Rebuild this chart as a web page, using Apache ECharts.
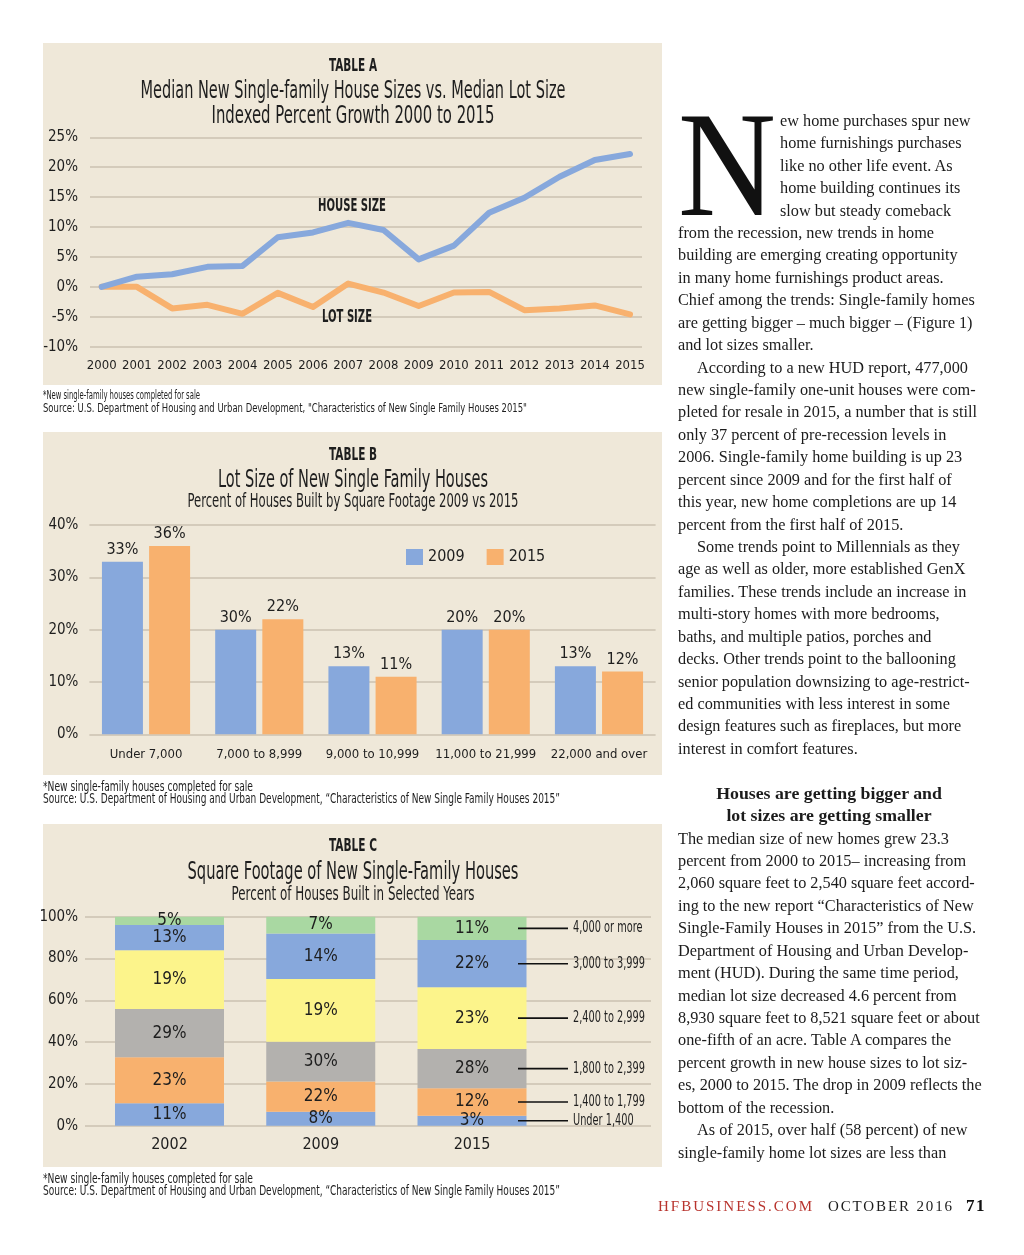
<!DOCTYPE html>
<html>
<head>
<meta charset="utf-8">
<script src="https://cdn.jsdelivr.net/npm/echarts@6/dist/echarts.min.js"></script>
<style>
  html, body { margin: 0; padding: 0; background: #ffffff; }
  #page { position: relative; width: 1024px; height: 1255px; overflow: hidden; background: #fff; }
  #chart { position: absolute; left: 0; top: 0; width: 1024px; height: 1255px; }
  .ln { position: absolute; white-space: pre; font-family: 'Liberation Serif', 'DejaVu Serif', serif; color: #1b1b1b; transform-origin: 0 0; }
  #dropcap { position: absolute; font-family: 'Liberation Serif', 'DejaVu Serif', serif; color: #111; transform-origin: 0 0; }
  .foot { position: absolute; font-family: 'Liberation Serif', 'DejaVu Serif', serif; white-space: pre; }
</style>
</head>
<body>
<div id="page">
  <div id="chart"></div>
  <div id="article"></div>
</div>
<script>
// ---------------- DATA ----------------
// Table A
const yearsA = [2000, 2001, 2002, 2003, 2004, 2005, 2006, 2007, 2008, 2009, 2010, 2011, 2012, 2013, 2014, 2015];
const houseSize = [0, 1.7, 2.1, 3.35, 3.5, 8.3, 9.1, 10.7, 9.5, 4.6, 6.9, 12.4, 14.9, 18.4, 21.2, 22.2];
const lotSize = [0, 0, -3.6, -3.0, -4.5, -1.0, -3.35, 0.55, -0.95, -3.2, -0.95, -0.85, -3.9, -3.6, -3.1, -4.6];

// Table B
const lotCats = ['Under 7,000', '7,000 to 8,999', '9,000 to 10,999', '11,000 to 21,999', '22,000 and over'];
const lot2009 = [33, 20, 13, 20, 13];
const lot2009Labels = ['33%', '30%', '13%', '20%', '13%'];
const lot2015 = [36, 22, 11, 20, 12];
const lot2015Labels = ['36%', '22%', '11%', '20%', '12%'];

// Table C (drawn segment heights, bottom to top, for 2002 / 2009 / 2015)
const sqYears = ['2002', '2009', '2015'];
const sqBands = ['Under 1,400', '1,400 to 1,799', '1,800 to 2,399', '2,400 to 2,999', '3,000 to 3,999', '4,000 or more'];
const sqUnder1400 = [10.7, 6.7, 4.8];
const sq1400 = [22.0, 14.4, 13.1];
const sq1800 = [23.1, 19.1, 18.8];
const sq2400 = [28.2, 30.0, 29.5];
const sq3000 = [12.0, 21.8, 22.6];
const sq4000 = [4.0, 8.0, 11.2];
const lblUnder1400 = ['11%', '8%', '3%'];
const lbl1400 = ['23%', '22%', '12%'];
const lbl1800 = ['29%', '30%', '28%'];
const lbl2400 = ['19%', '19%', '23%'];
const lbl3000 = ['13%', '14%', '22%'];
const lbl4000 = ['5%', '7%', '11%'];

// ---------------- STYLE ----------------
const mctx = document.createElement('canvas').getContext('2d');
function measure(text, font) { mctx.font = font; return mctx.measureText(text).width; }
function hasFont(name) {
  const t = 'abcdefghijklmnopqrstuvwxyzABCDEFGHIJKLM0123456789%,';
  return measure(t, "40px '" + name + "', monospace") !== measure(t, '40px monospace');
}
const condCandidates = ['Liberation Sans Narrow', 'Arial Narrow', 'DejaVu Sans Condensed', 'Roboto', 'Liberation Sans'];
const FF = "'" + (condCandidates.find(hasFont) || 'DejaVu Sans') + "', sans-serif";
const INK = '#1e1e1e';
const PANEL = '#EFE8D9';
const GRIDC = '#CBC2B1';
const BLUE = '#87A8DC';
const ORANGE = '#F8B16E';
const GRAY = '#B3B1AE';
const YELLOW = '#FCF48B';
const GREEN = '#A9D8A2';

function fitText(text, cx, cy, size, weight, targetW, align) {
  const font = weight + ' ' + size + 'px ' + FF;
  const s = targetW / measure(text, font);
  return {
    type: 'text', x: cx, y: cy, scaleX: s, silent: true, z: 10,
    style: { text: text, fontSize: size, fontWeight: weight, fontFamily: FF, fill: INK,
             align: align || 'center', verticalAlign: 'middle' }
  };
}
function panel(x, y, w, h) {
  return { type: 'rect', shape: { x: x, y: y, width: w, height: h }, style: { fill: PANEL }, silent: true, z: -100 };
}

const graphics = [
  panel(43, 43, 619, 342),
  panel(43, 432, 619, 343),
  panel(43, 824, 619, 343),
  fitText('TABLE A', 353, 67, 17, 'bold', 48),
  fitText('Median New Single-family House Sizes vs. Median Lot Size', 353, 91, 25, 'normal', 425),
  fitText('Indexed Percent Growth 2000 to 2015', 353, 116, 25, 'normal', 283),
  fitText('HOUSE SIZE', 352, 207, 17, 'bold', 68),
  fitText('LOT SIZE', 347, 318, 17, 'bold', 50),
  fitText('*New single-family houses completed for sale', 43, 396, 12, 'normal', 157, 'left'),
  fitText('Source: U.S. Department of Housing and Urban Development, "Characteristics of New Single Family Houses 2015"', 43, 409, 12, 'normal', 484, 'left'),
  fitText('TABLE B', 353, 456, 17, 'bold', 48),
  fitText('Lot Size of New Single Family Houses', 353, 480, 25, 'normal', 270),
  fitText('Percent of Houses Built by Square Footage 2009 vs 2015', 353, 502, 19, 'normal', 331),
  fitText('*New single-family houses completed for sale', 43, 787, 14, 'normal', 210, 'left'),
  fitText('Source: U.S. Department of Housing and Urban Development, \u201CCharacteristics of New Single Family Houses 2015\u201D', 43, 799, 14, 'normal', 517, 'left'),
  fitText('TABLE C', 353, 847, 17, 'bold', 48),
  fitText('Square Footage of New Single-Family Houses', 353, 872, 25, 'normal', 331),
  fitText('Percent of Houses Built in Selected Years', 353, 895, 19, 'normal', 243),
  fitText('*New single-family houses completed for sale', 43, 1179, 14, 'normal', 210, 'left'),
  fitText('Source: U.S. Department of Housing and Urban Development, \u201CCharacteristics of New Single Family Houses 2015\u201D', 43, 1191, 14, 'normal', 517, 'left')
];

const pctAxisLabel = (margin) => ({ formatter: '{value}%', fontSize: 15, color: INK, fontFamily: FF, margin: margin });
const split = { show: true, lineStyle: { color: GRIDC, width: 1.5 } };
const noLine = { axisTick: { show: false }, axisLine: { show: false } };

// stacked series for Table C
const sqSeriesDefs = [
  [sqBands[0], sqUnder1400, lblUnder1400, BLUE],
  [sqBands[1], sq1400, lbl1400, ORANGE],
  [sqBands[2], sq1800, lbl1800, GRAY],
  [sqBands[3], sq2400, lbl2400, YELLOW],
  [sqBands[4], sq3000, lbl3000, BLUE],
  [sqBands[5], sq4000, lbl4000, GREEN]
];
const sqSeries = sqSeriesDefs.map(([name, vals, lbls, color]) => ({
  name: name, type: 'bar', stack: 'sq', xAxisIndex: 3, yAxisIndex: 3,
  barWidth: 109, itemStyle: { color: color },
  data: vals,
  label: { show: true, position: 'inside', fontSize: 17, color: INK, fontFamily: FF,
           formatter: (p) => lbls[p.dataIndex] },
  emphasis: { disabled: true }
}));

// annotation points: centres of the 2015 segments
const last = sqYears.length - 1;
let acc = 0;
const annot = sqSeriesDefs.map(([name, vals], k) => {
  const c = acc + vals[last] / 2; acc += vals[last];
  return [last, c, k];
});
const bandScale = 72 / measure('3,000 to 3,999', '15px ' + FF);

const option = {
  backgroundColor: 'transparent',
  animation: false,
  textStyle: { fontFamily: FF },
  graphic: graphics,
  legend: {
    data: ['2009', '2015'], left: 406, top: 549, padding: 0,
    itemWidth: 17, itemHeight: 16, itemGap: 22, icon: 'rect',
    textStyle: { fontSize: 16, color: INK, fontFamily: FF }
  },
  grid: [
    { left: 90, right: 382, top: 137.3, bottom: 908.3, outerBoundsMode: 'none', containLabel: false },
    { left: 89.4, right: 368.4, top: 525, bottom: 520.7, outerBoundsMode: 'none', containLabel: false },
    { left: 85, right: 373, top: 916.7, bottom: 129.3, outerBoundsMode: 'none', containLabel: false },
    { left: 93.875, right: 476.375, top: 916.7, bottom: 129.3, outerBoundsMode: 'none', containLabel: false }
  ],
  xAxis: [
    { gridIndex: 0, type: 'value', min: 1999.668, max: 2015.34, ...noLine,
      axisLabel: { customValues: yearsA, formatter: (v) => String(v), fontSize: 13, color: INK, fontFamily: FF,
                   margin: 12, showMinLabel: true, showMaxLabel: true, hideOverlap: false },
      splitLine: { show: false } },
    { gridIndex: 1, type: 'category', data: lotCats, ...noLine,
      axisLabel: { interval: 0, fontSize: 13, color: INK, fontFamily: FF, margin: 14, hideOverlap: false },
      splitLine: { show: false } },
    { gridIndex: 2, type: 'value', min: 0, max: 1, show: false },
    { gridIndex: 3, type: 'category', data: sqYears, ...noLine,
      axisLabel: { interval: 0, fontSize: 16, color: INK, fontFamily: FF, margin: 11 },
      splitLine: { show: false } }
  ],
  yAxis: [
    { gridIndex: 0, type: 'value', min: -10, max: 25, interval: 5, axisLabel: pctAxisLabel(12), ...noLine, splitLine: split },
    { gridIndex: 1, type: 'value', min: 0, max: 40, interval: 10, axisLabel: pctAxisLabel(11), ...noLine, splitLine: split },
    { gridIndex: 2, type: 'value', min: 0, max: 100, interval: 20, axisLabel: pctAxisLabel(7), ...noLine, splitLine: split },
    { gridIndex: 3, type: 'value', min: 0, max: 100, interval: 20, show: false }
  ],
  series: [
    { name: 'Lot size', type: 'line', xAxisIndex: 0, yAxisIndex: 0, showSymbol: false, z: 3,
      data: yearsA.map((y, i) => [y, lotSize[i]]),
      lineStyle: { color: ORANGE, width: 6, cap: 'round', join: 'round' }, itemStyle: { color: ORANGE } },
    { name: 'House size', type: 'line', xAxisIndex: 0, yAxisIndex: 0, showSymbol: false, z: 4,
      data: yearsA.map((y, i) => [y, houseSize[i]]),
      lineStyle: { color: BLUE, width: 6, cap: 'round', join: 'round' }, itemStyle: { color: BLUE } },
    { name: '2009', type: 'bar', xAxisIndex: 1, yAxisIndex: 1, data: lot2009, barWidth: 41, barGap: '15%',
      itemStyle: { color: BLUE },
      label: { show: true, position: 'top', distance: 4, fontSize: 16, color: INK, fontFamily: FF,
               formatter: (p) => lot2009Labels[p.dataIndex] } },
    { name: '2015', type: 'bar', xAxisIndex: 1, yAxisIndex: 1, data: lot2015, barWidth: 41, barGap: '15%',
      itemStyle: { color: ORANGE },
      label: { show: true, position: 'top', distance: 4, fontSize: 16, color: INK, fontFamily: FF,
               formatter: (p) => lot2015Labels[p.dataIndex] } },
    ...sqSeries,
    { name: 'bands', type: 'custom', xAxisIndex: 3, yAxisIndex: 3, z: 6, clip: false, silent: true,
      data: annot,
      renderItem: function (params, api) {
        const p = api.coord([api.value(0), api.value(1)]);
        const idx = api.value(2);
        return { type: 'group', children: [
          { type: 'line', shape: { x1: p[0] + 46, y1: p[1], x2: p[0] + 96, y2: p[1] },
            style: { stroke: '#111', lineWidth: 1.6 } },
          { type: 'text', x: p[0] + 101, y: p[1], scaleX: bandScale,
            style: { text: sqBands[idx], fontSize: 15, fontFamily: FF, fill: INK, align: 'left', verticalAlign: 'middle' } }
        ] };
      } }
  ]
};

const chart = echarts.init(document.getElementById('chart'), null, { renderer: 'canvas' });
chart.setOption(option);

// ---------------- ARTICLE TEXT ----------------
const articleLines = [
  ['drop', 'ew home purchases spur new'],
  ['drop', 'home furnishings purchases'],
  ['drop', 'like no other life event. As'],
  ['drop', 'home building continues its'],
  ['drop', 'slow but steady comeback'],
  ['body', 'from the recession, new trends in home'],
  ['body', 'building are emerging creating opportunity'],
  ['body', 'in many home furnishings product areas.'],
  ['body', 'Chief among the trends: Single-family homes'],
  ['body', 'are getting bigger \u2013 much bigger \u2013 (Figure 1)'],
  ['body', 'and lot sizes smaller.'],
  ['indent', 'According to a new HUD report, 477,000'],
  ['body', 'new single-family one-unit houses were com-'],
  ['body', 'pleted for resale in 2015, a number that is still'],
  ['body', 'only 37 percent of pre-recession levels in'],
  ['body', '2006. Single-family home building is up 23'],
  ['body', 'percent since 2009 and for the first half of'],
  ['body', 'this year, new home completions are up 14'],
  ['body', 'percent from the first half of 2015.'],
  ['indent', 'Some trends point to Millennials as they'],
  ['body', 'age as well as older, more established GenX'],
  ['body', 'families. These trends include an increase in'],
  ['body', 'multi-story homes with more bedrooms,'],
  ['body', 'baths, and multiple patios, porches and'],
  ['body', 'decks. Other trends point to the ballooning'],
  ['body', 'senior population downsizing to age-restrict-'],
  ['body', 'ed communities with less interest in some'],
  ['body', 'design features such as fireplaces, but more'],
  ['body', 'interest in comfort features.'],
  ['blank', ''],
  ['head', 'Houses are getting bigger and'],
  ['head', 'lot sizes are getting smaller'],
  ['body', 'The median size of new homes grew 23.3'],
  ['body', 'percent from 2000 to 2015\u2013 increasing from'],
  ['body', '2,060 square feet to 2,540 square feet accord-'],
  ['body', 'ing to the new report \u201CCharacteristics of New'],
  ['body', 'Single-Family Houses in 2015\u201D from the U.S.'],
  ['body', 'Department of Housing and Urban Develop-'],
  ['body', 'ment (HUD). During the same time period,'],
  ['body', 'median lot size decreased 4.6 percent from'],
  ['body', '8,930 square feet to 8,521 square feet or about'],
  ['body', 'one-fifth of an acre. Table A compares the'],
  ['body', 'percent growth in new house sizes to lot siz-'],
  ['body', 'es, 2000 to 2015. The drop in 2009 reflects the'],
  ['body', 'bottom of the recession.'],
  ['indent', 'As of 2015, over half (58 percent) of new'],
  ['body', 'single-family home lot sizes are less than']
];
const SERIF = "'Liberation Serif', 'DejaVu Serif', serif";
const bodySize = 17.5, pitch = 22.43, firstCenter = 120;
const bodyScale = 299 / measure('pleted for resale in 2015, a number that is still', bodySize + 'px ' + SERIF);
const headScale = 226 / measure('Houses are getting bigger and', 'bold ' + bodySize + 'px ' + SERIF);
const art = document.getElementById('article');
articleLines.forEach(([kind, text], i) => {
  if (kind === 'blank') return;
  const d = document.createElement('div');
  d.className = 'ln';
  d.textContent = text;
  d.style.fontSize = bodySize + 'px';
  d.style.lineHeight = pitch + 'px';
  d.style.top = (firstCenter + i * pitch - pitch / 2) + 'px';
  if (kind === 'head') {
    d.style.fontWeight = 'bold';
    d.style.left = '829px';
    d.style.transform = 'scaleX(' + headScale + ') translateX(-50%)';
  } else {
    const x = kind === 'drop' ? 780 : (kind === 'indent' ? 697 : 678);
    d.style.left = x + 'px';
    d.style.transform = 'scaleX(' + bodyScale + ')';
  }
  art.appendChild(d);
});
// drop cap
const dc = document.createElement('div');
dc.id = 'dropcap';
dc.textContent = 'N';
dc.style.fontSize = '150px';
dc.style.lineHeight = '150px';
dc.style.left = '678px';
dc.style.top = '89px';
dc.style.transform = 'scaleX(' + (98 / measure('N', '150px ' + SERIF)) + ')';
art.appendChild(dc);
// footer
function foot(text, left, width, size, weight, color) {
  const d = document.createElement('div');
  d.className = 'foot';
  d.textContent = text;
  d.style.fontSize = size + 'px';
  d.style.fontWeight = weight;
  d.style.color = color;
  d.style.left = left + 'px';
  d.style.lineHeight = '20px';
  d.style.top = (1206 - 10) + 'px';
  const w = measure(text, weight + ' ' + size + 'px ' + SERIF);
  d.style.letterSpacing = ((width - w) / text.length) + 'px';
  art.appendChild(d);
}
foot('HFBUSINESS.COM', 658, 156, 15, 'normal', '#B8342E');
foot('OCTOBER 2016', 828, 126, 15, 'normal', '#1b1b1b');
foot('71', 966, 20, 17, 'bold', '#111');
</script>
</body>
</html>
